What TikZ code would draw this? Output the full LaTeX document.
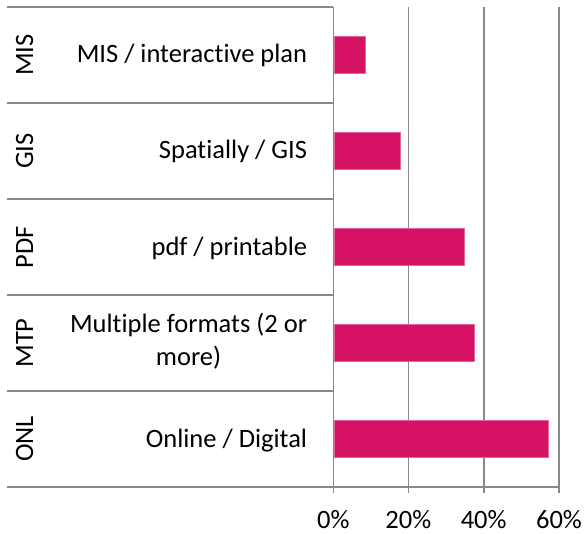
\documentclass[tikz,border=0pt]{standalone}
\usepackage{fontspec}
\setmainfont[Ligatures={NoCommon}]{Carlito}
\definecolor{barpink}{RGB}{214,18,101}
\definecolor{gridgray}{RGB}{137,137,137}
\begin{document}
\begin{tikzpicture}[x=1pt,y=-1pt,
  gridline/.style={draw=gridgray,line width=1.6pt},
  sepline/.style={draw=gridgray,line width=1.6pt},
  bar/.style={fill=barpink,draw=barpink!65!white,line width=0.7pt},
  lab/.style={font=\fontsize{26.5}{32.6}\selectfont,inner sep=0pt,text=black},
  code/.style={lab,rotate=90,anchor=base},
  cat/.style={lab,anchor=base east,align=center},
  tick/.style={lab,anchor=base}]
\useasboundingbox (0,0) rectangle (585,534);
% coordinates
\coordinate (o0) at (333.3,7);
\coordinate (b0) at (333.3,493);
% gridlines
\foreach \gx/\nm in {408.3/g20,483.7/g40,559/g60}{
  \coordinate (\nm t) at (\gx,7);
  \coordinate (\nm b) at (\gx,493);
  \draw[gridline] (\nm t) -- (\nm b);
}
% separators
\foreach \sy/\nm in {7/s0,103/s1,199/s2,295/s3,391/s4}{
  \coordinate (\nm l) at (7,\sy);
  \coordinate (\nm r) at (333.3,\sy);
  \draw[sepline] (\nm l) -- (\nm r);
}
\coordinate (s5l) at (7,487);
\coordinate (s5r) at (559,487);
\draw[sepline] (s5l) -- (s5r);
\draw[gridline] (o0) -- (b0);
% bars
\foreach \cy/\p in {55/8.6,151/17.8,247/34.9,343/37.4,439/57.2}{
  \draw[bar] (333.3+0.8,\cy-18.5) rectangle (333.3+\p*3.7675,\cy+18.5);
}
% codes
\node[code] (cMIS) at (33,55) {MIS};
\node[code] (cGIS) at (33,151) {GIS};
\node[code] (cPDF) at (33,247) {PDF};
\node[code] (cMTP) at (33,343) {MTP};
\node[code] (cONL) at (33,439) {ONL};
% categories
\node[cat] (lMIS) at (307.3,63) {MIS / interactive plan};
\node[cat] (lGIS) at (307.3,159) {Spatially / GIS};
\node[cat] (lPDF) at (307.3,255) {pdf / printable};
\node[cat] (lMTP) at (307.3,365.3) {Multiple formats (2 or\\more)};
\node[cat] (lONL) at (307.3,447) {Online / Digital};
% ticks
\node[tick] (t0) at (333.3,528) {0\%};
\node[tick] (t20) at (408.3,528) {20\%};
\node[tick] (t40) at (483.7,528) {40\%};
\node[tick] (t60) at (559,528) {60\%};
\end{tikzpicture}
\end{document}
